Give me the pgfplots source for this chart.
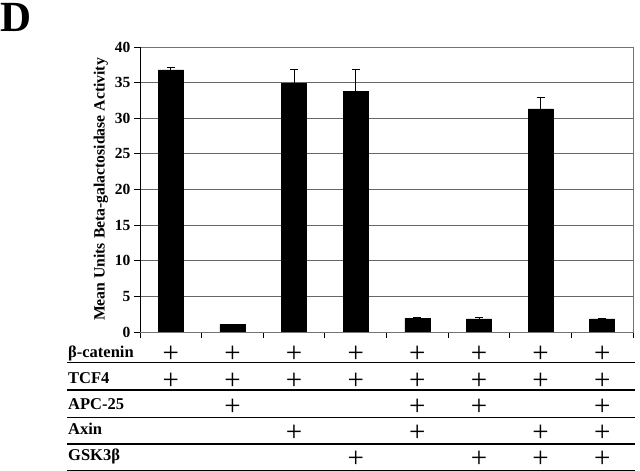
\documentclass[border=0pt]{standalone}
\usepackage{fontspec}
\setmainfont{Liberation Serif}
\usepackage{pgfplots}
\pgfplotsset{compat=1.18}
\newcommand\cell[1]{\vbox to 26.2pt{\vss\hbox to 24pt{\hss\ifnum#1=1 +\else\phantom{+}\fi\hss}\vss}}
\newcommand\pl[5]{\normalfont\fontsize{29}{29}\selectfont\vbox{\offinterlineskip\cell{#1}\cell{#2}\cell{#3}\cell{#4}\cell{#5}}}
\pgfplotstableread{
x y e
1 36.8 0.4
2 1.05 0.08
3 34.9 1.9
4 33.8 3.1
5 1.95 0.08
6 1.85 0.15
7 31.3 1.6
8 1.85 0.08
}\datatable
\begin{document}
\begin{tikzpicture}[x=1pt,y=1pt]
\useasboundingbox (0,0) rectangle (640,471);
\node[anchor=base west, inner sep=0, font=\fontsize{43}{43}\selectfont\bfseries] at (0,439.5) {D};
\begin{axis}[
 at={(140pt,139pt)}, anchor=south west, scale only axis, width=493pt, height=285pt,
 xmin=0.5, xmax=8.5, ymin=0, ymax=40,
 ytick={0,5,...,40},
 xtick={0.5,1.5,2.5,3.5,4.5,5.5,6.5,7.5,8.5}, xticklabels={},
 extra x ticks={1,2,3,4,5,6,7,8},
 extra x tick labels={\pl{1}{1}{0}{0}{0},\pl{1}{1}{1}{0}{0},\pl{1}{1}{0}{1}{0},\pl{1}{1}{0}{0}{1},\pl{1}{1}{1}{1}{0},\pl{1}{1}{1}{0}{1},\pl{1}{1}{0}{1}{1},\pl{1}{1}{1}{1}{1}},
 extra x tick style={major tick length=0pt, xticklabel style={anchor=north, inner sep=0pt, yshift=-9.5pt}},
 tick pos=left, tick align=outside, major tick length=6pt,
 ymajorgrids, grid style={black!60, line width=0.8pt},
 axis line style={black!55, line width=0.8pt},
 tick style={black, line width=0.8pt},
 yticklabel style={font=\fontsize{15.5}{16}\selectfont\bfseries},
 /pgf/number format/assume math mode=true,
 ylabel={Mean Units Beta-galactosidase Activity},
 ylabel style={font=\fontsize{15.7}{16}\selectfont\bfseries},
]
\addplot[ybar, bar width=25pt, fill=black, draw=black,
  error bars/.cd, y dir=plus, y explicit,
  error bar style={black, line width=0.8pt},
  error mark options={black, mark size=4pt, line width=0.8pt, rotate=90}]
  table[x=x, y=y, y error=e]{\datatable};
\draw[black, line width=0.9pt] (rel axis cs:0,1) -- (rel axis cs:0,0) -- (rel axis cs:1,0);
\end{axis}
\foreach \yy in {108.3,81,53.7,27,0.6} {\draw[black, line width=1.2pt] (67,\yy) -- (635,\yy);}
\begin{scope}[every node/.style={anchor=base west, inner sep=0, font=\fontsize{16.5}{16.5}\selectfont\bfseries}]
\node at (68,113.7) {β-catenin};
\node at (68,87.7) {TCF4};
\node at (68,61.7) {APC-25};
\node at (68,36) {Axin};
\node at (68,10) {GSK3β};
\end{scope}
\end{tikzpicture}
\end{document}
